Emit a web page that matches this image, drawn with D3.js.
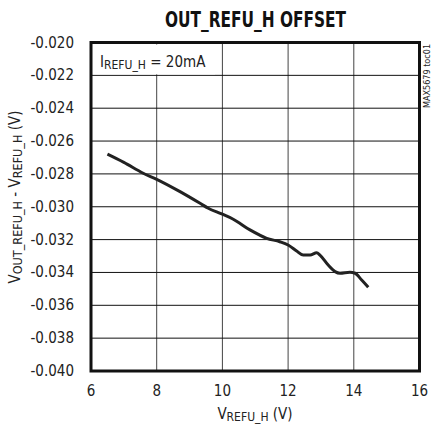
<!DOCTYPE html>
<html lang="en">
<head>
<meta charset="utf-8">
<title>OUT_REFU_H OFFSET</title>
<script src="https://d3js.org/d3.v7.min.js"></script>
<style>
  body { margin: 0; background: #fff; }
  text { font-family: "Liberation Sans Narrow", "DejaVu Sans Condensed", "Arial Narrow", sans-serif; fill: #222; }
</style>
</head>
<body>
<script>
// data
var vin = [6.5, 7.0, 7.59, 8.0, 8.71, 9.32, 9.57, 9.98, 10.33, 10.84, 11.35, 11.75, 12.0, 12.26, 12.46, 12.67, 12.87, 12.97, 13.22, 13.43, 13.58, 13.88, 14.04, 14.24, 14.44];
var offset = [-0.0268, -0.0273, -0.02796, -0.02833, -0.02908, -0.02979, -0.03009, -0.03044, -0.03076, -0.03141, -0.03192, -0.03213, -0.03233, -0.03269, -0.03294, -0.03294, -0.0328, -0.03294, -0.03355, -0.03395, -0.03405, -0.03399, -0.03405, -0.03446, -0.0349];
var xTicks = [6, 8, 10, 12, 14, 16];
var yTicks = [-0.020, -0.022, -0.024, -0.026, -0.028, -0.030, -0.032, -0.034, -0.036, -0.038, -0.040];

var width = 432, height = 436;
var pl = 91, pr = 419.5, pt = 42.5, pb = 371;

var svg = d3.select("body").append("svg")
    .attr("width", width)
    .attr("height", height);

var x = d3.scaleLinear().domain([6, 16]).range([pl, pr]);
var y = d3.scaleLinear().domain([-0.040, -0.020]).range([pb, pt]);

// grid
svg.append("g").selectAll("line")
    .data(xTicks.slice(1, -1))
    .enter().append("line")
    .attr("x1", d => x(d)).attr("x2", d => x(d))
    .attr("y1", pt).attr("y2", pb)
    .attr("stroke", "#444").attr("stroke-width", 1);

svg.append("g").selectAll("line")
    .data(yTicks.slice(1, -1))
    .enter().append("line")
    .attr("x1", pl).attr("x2", pr)
    .attr("y1", d => y(d)).attr("y2", d => y(d))
    .attr("stroke", "#111").attr("stroke-width", 1);

// white box behind the current label
svg.append("rect")
    .attr("x", pl + 2).attr("y", pt + 2)
    .attr("width", 122).attr("height", y(-0.022) - pt - 3)
    .attr("fill", "#fff");

// frame
svg.append("rect")
    .attr("x", pl).attr("y", pt)
    .attr("width", pr - pl).attr("height", pb - pt)
    .attr("fill", "none").attr("stroke", "#111").attr("stroke-width", 3);

// tick labels
svg.append("g").selectAll("text")
    .data(yTicks)
    .enter().append("text")
    .attr("x", 74).attr("y", d => y(d) + 5)
    .attr("text-anchor", "end")
    .attr("font-size", 15)
    .text(d => d3.format(".3f")(d).replace("−", "-"));

svg.append("g").selectAll("text")
    .data(xTicks)
    .enter().append("text")
    .attr("x", d => x(d)).attr("y", 396)
    .attr("text-anchor", "middle")
    .attr("font-size", 15)
    .text(d => d);

// curve
var line = d3.line()
    .x((d, i) => x(vin[i]))
    .y(d => y(d))
    .curve(d3.curveMonotoneX);

svg.append("path")
    .datum(offset)
    .attr("d", line)
    .attr("fill", "none")
    .attr("stroke", "#222")
    .attr("stroke-width", 3)
    .attr("stroke-linejoin", "round");

// title
svg.append("text")
    .attr("x", 165).attr("y", 27)
    .attr("font-size", 21)
    .attr("font-weight", "bold")
    .attr("textLength", 181)
    .attr("lengthAdjust", "spacingAndGlyphs")
    .style("fill", "#111")
    .text("OUT_REFU_H OFFSET");

// label inside
var lab = svg.append("text")
    .attr("x", 100).attr("y", 67)
    .attr("font-size", 15);
lab.append("tspan").text("I");
lab.append("tspan").attr("font-size", 12).attr("dy", 2).text("REFU_H");
lab.append("tspan").attr("dy", -2).text(" = 20mA");

// x axis title
var xt = svg.append("text")
    .attr("x", 255).attr("y", 419)
    .attr("text-anchor", "middle")
    .attr("font-size", 15);
xt.append("tspan").text("V");
xt.append("tspan").attr("font-size", 12).attr("dy", 2).text("REFU_H");
xt.append("tspan").attr("dy", -2).text(" (V)");

// y axis title
var yt = svg.append("text")
    .attr("transform", "translate(20,197) rotate(-90)")
    .attr("text-anchor", "middle")
    .attr("font-size", 15);
yt.append("tspan").text("V");
yt.append("tspan").attr("font-size", 12.5).attr("dy", 2).text("OUT_REFU_H");
yt.append("tspan").attr("dy", -2).text(" - V");
yt.append("tspan").attr("font-size", 12.5).attr("dy", 2).text("REFU_H");
yt.append("tspan").attr("dy", -2).text(" (V)");

// figure id
svg.append("text")
    .attr("transform", "translate(430,76) rotate(-90)")
    .attr("text-anchor", "middle")
    .attr("font-size", 9)
    .text("MAX5679 toc01");
</script>
</body>
</html>
